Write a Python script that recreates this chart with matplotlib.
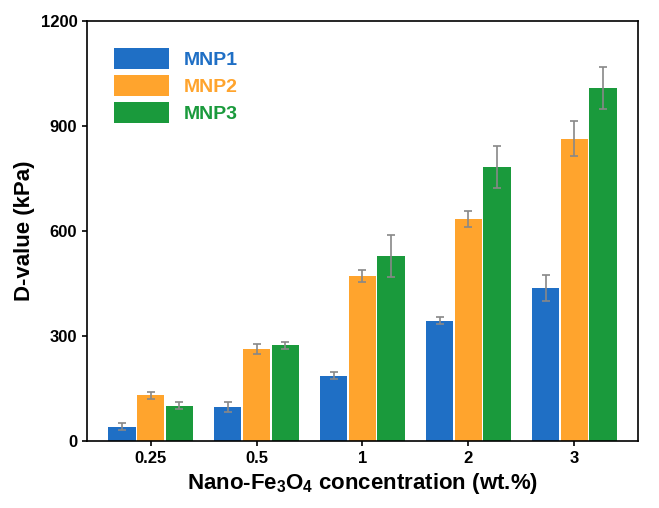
import matplotlib
matplotlib.use("Agg")
import matplotlib.pyplot as plt
import numpy as np

categories = ["0.25", "0.5", "1", "2", "3"]
mnp1 = [40, 97, 186, 343, 437]
mnp1_err = [10, 15, 10, 10, 38]
mnp2 = [131, 263, 471, 634, 863]
mnp2_err = [10, 15, 17, 22, 50]
mnp3 = [100, 274, 528, 783, 1009]
mnp3_err = [10, 10, 60, 60, 60]

plt.rcParams['font.family'] = ['Liberation Sans', 'DejaVu Sans']
plt.rcParams['mathtext.fontset'] = 'custom'
plt.rcParams['mathtext.bf'] = 'Liberation Sans:bold'
plt.rcParams['mathtext.rm'] = 'Liberation Sans:bold'
fig = plt.figure(figsize=(6.59, 5.08), dpi=100)
ax = fig.add_axes([0.132, 0.132, 0.836, 0.827])
x = np.arange(len(categories))
w = 0.27
colors = ["#1f6fc5", "#ffa42d", "#1a9a3c"]
ek = dict(ecolor="#888888", capsize=3, elinewidth=1.2, capthick=1.2)
for off, vals, err, c, lab in [(-w, mnp1, mnp1_err, colors[0], "MNP1"),
                               (0, mnp2, mnp2_err, colors[1], "MNP2"),
                               (w, mnp3, mnp3_err, colors[2], "MNP3")]:
    ax.bar(x + off, vals, w * 0.95, yerr=err, color=c, label=lab, error_kw=ek)
ax.set_xticks(x)
ax.set_xticklabels(categories, fontsize=12, fontweight='bold')
ax.set_ylim(0, 1200)
ax.set_xlim(-0.6, 4.6)
ax.set_yticks([0, 300, 600, 900, 1200])
ax.tick_params(axis='y', labelsize=12)
for t in ax.get_yticklabels():
    t.set_fontweight('bold')
ax.tick_params(direction='out', width=1.2)
for s in ax.spines.values():
    s.set_linewidth(1.2)
ax.set_ylabel("D-value (kPa)", fontsize=16, fontweight='bold')
ax.set_xlabel("Nano-Fe$_{3}$O$_{4}$ concentration (wt.%)", fontsize=16, fontweight='bold')
leg = ax.legend(loc='upper left', frameon=False, prop={'weight': 'bold', 'size': 14},
                handlelength=2.8, handleheight=1.3, labelspacing=0.3, borderaxespad=1.0)
for t, c in zip(leg.get_texts(), colors):
    t.set_color(c)
fig.savefig("out.png")
